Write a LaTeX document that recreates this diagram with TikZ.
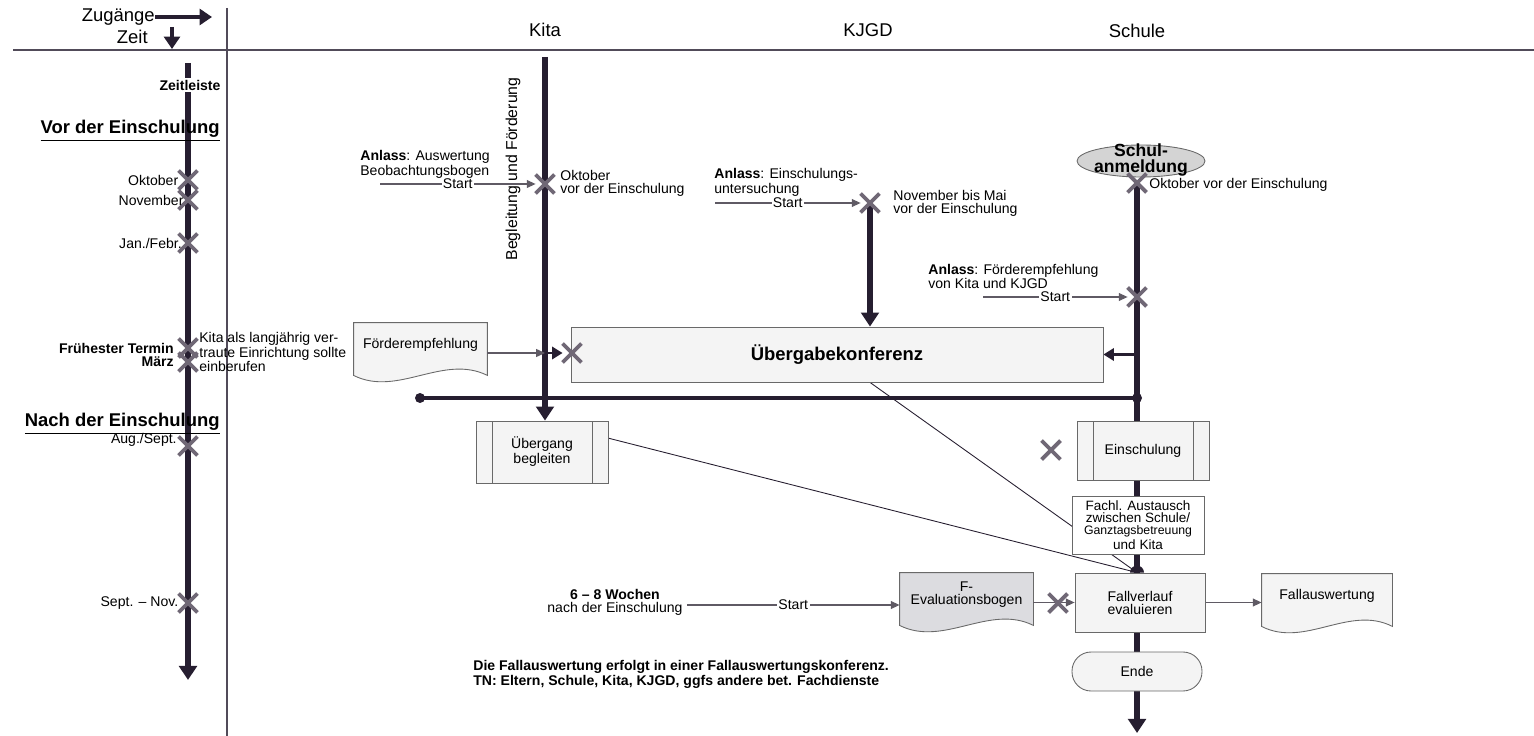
\documentclass[tikz,border=0pt]{standalone}
\usepackage{fontspec}
\setmainfont{Liberation Sans}
\usetikzlibrary{calc,positioning,arrows.meta,shapes.misc,shapes.geometric,backgrounds}
\definecolor{lanedark}{RGB}{38,30,48}
\definecolor{markgray}{RGB}{112,104,118}
\definecolor{thingray}{RGB}{95,90,100}
\definecolor{boxline}{RGB}{105,105,105}
\definecolor{boxfill}{RGB}{244,244,244}
\definecolor{ellfill}{RGB}{212,212,212}
\definecolor{evalfill}{RGB}{220,220,224}

% outline of a document symbol round node #1, filled with #2
\newcommand{\docwave}[2]{%
  \draw[boxline, line width=0.5pt, fill=#2]
    (#1.north west) -- (#1.north east) -- ($(#1.south east)+(0,8)$)
    .. controls ($(#1.south east)!0.33!(#1.south west)+(0,-14)$) and ($(#1.south east)!0.67!(#1.south west)+(0,30)$) .. ($(#1.south west)+(0,8)$) -- cycle;}

\tikzset{
  txt/.style={inner sep=0pt, align=left, font=\fontsize{8}{7.4}\selectfont},
  txtb/.style={txt, font=\fontsize{8}{7.4}\selectfont\bfseries},
  lane/.style={inner sep=0pt, font=\fontsize{10.5}{12}\selectfont},
  phase/.style={inner sep=0pt, font=\fontsize{10.5}{12}\selectfont\bfseries},
  xmark/.style={cross out, draw=markgray, line width=2.2pt, minimum width=0.3cm, minimum height=0.3cm, inner sep=0pt},
  flowline/.style={draw=lanedark, line width=3.2pt},
  flowarrow/.style={flowline, -{Triangle[width=10pt,length=8pt]}},
  midarrow/.style={draw=lanedark, line width=1.4pt, -{Triangle[width=7pt,length=6pt]}},
  headarrow/.style={draw=lanedark, line width=2pt, -{Triangle[width=9pt,length=7pt]}},
  startarrow/.style={draw=thingray, line width=0.6pt, -{Triangle[width=4.5pt,length=5pt]}},
  startlbl/.style={txt, fill=white, inner sep=0.8pt},
  thinline/.style={draw=lanedark, line width=0.5pt},
  frame/.style={draw=lanedark!80, line width=0.6pt},
  box/.style={draw=boxline, line width=0.5pt, fill=boxfill, inner sep=1pt, align=center, font=\fontsize{8}{7.4}\selectfont},
  procbox/.style={box, path picture={
    \draw[boxline, line width=0.5pt]
      ([xshift=0.32cm]path picture bounding box.north west) -- ([xshift=0.32cm]path picture bounding box.south west)
      ([xshift=-0.32cm]path picture bounding box.north east) -- ([xshift=-0.32cm]path picture bounding box.south east);}},
  docbox/.style={box, draw=none, fill=none},
}

\begin{document}
\begin{tikzpicture}[x=0.02cm, y=-0.02cm]
  \useasboundingbox (0,0) rectangle (1534,736);

  % Kopf
  \draw[frame] (13,50) -- (1534,50);
  \draw[frame] (227,8) -- (227,736);
  \node[lane, anchor=east] (zugaenge) at (155,17) {Zugänge};
  \coordinate (zugEnd) at (212,17);
  \node[lane, anchor=east] (zeit) at (148,37) {Zeit};
  \coordinate (zeitTop) at (172,27);
  \coordinate (zeitEnd) at (172,49);
  \node[lane] (kita) at (545,30) {Kita};
  \node[lane] (kjgd) at (868,30) {KJGD};
  \node[lane] (schule) at (1137,31) {Schule};

  % Zeitleiste
  \coordinate (tlTop) at (188,63);
  \coordinate (tlEnd) at (188,680);
  \node[txtb, fill=white, inner sep=1pt] (zeitleiste) at (190,85) {Zeitleiste};
  \node[phase, anchor=east] (vor) at (220,131) {\underline{Vor der Einschulung}};
  \node[phase, anchor=east] (nach) at (220,424) {\underline{Nach der Einschulung}};
  \foreach \n/\y in {okt/180, nov/200, jan/243, mzA/348, mzB/362, aug/446, sep/603}
    \node[xmark] (x\n) at (188,\y) {};
  \node[txt, left=0pt of xokt] {Oktober};
  \node[txt, left=-3pt of xnov] {November};
  \node[txt, left=-2pt of xjan] {Jan./Febr.};
  \node[txtb, align=right, anchor=east] (termin) at (174,355) {Frühester Termin\\März};
  \node[txt, anchor=east] at (177,440) {Aug./Sept.};
  \node[txt, left=0pt of xsep] {Sept. – Nov.};
  \node[txt, anchor=west] (kitaHint) at (199,352) {Kita als langjährig ver-\\traute Einrichtung sollte\\einberufen};

  % Kita
  \coordinate (kitaTop) at (545,57);
  \node[rotate=90, inner sep=0pt, font=\fontsize{9}{10}\selectfont] (begleitung) at (513,169) {Begleitung und Förderung};
  \node[txt, anchor=west] (anlassKita) at (360,164.5) {\textbf{Anlass}: Auswertung\\Beobachtungsbogen};
  \coordinate (kitaStart) at (380,184);
  \node[xmark] (xKita) at (545,184) {};
  \node[txt, anchor=west] at (560,183.5) {Oktober\\vor der Einschulung};

  % KJGD
  \node[txt, anchor=west] (anlassKjgd) at (714,182.5) {\textbf{Anlass}: Einschulungs-\\untersuchung};
  \coordinate (kjgdStart) at (715,203);
  \node[xmark] (xKjgd) at (870,203) {};
  \node[txt, anchor=west] at (893,203.5) {November bis Mai\\vor der Einschulung};

  % Schule
  \node[ellipse, draw=boxline, line width=0.5pt, fill=ellfill, minimum width=2.56cm, minimum height=0.64cm, inner sep=0pt] (anmeldung) at (1141,161) {};
  \node[inner sep=0pt, align=center, font=\fontsize{10}{9.5}\selectfont\bfseries] (anmeldungTxt) at (1141,160) {Schul-\\anmeldung};
  \node[xmark] (xSchule) at (1137,183) {};
  \node[txt, anchor=west] at (1149,185) {Oktober vor der Einschulung};
  \node[txt, anchor=west] (anlassSchule) at (928,276.5) {\textbf{Anlass}: Förderempfehlung\\von Kita und KJGD};
  \coordinate (schuleStart) at (983,297);
  \node[xmark] (xFoerd) at (1137,297) {};
  \coordinate (schuleEnd) at (1137,733);

  % Uebergabe
  \node[docbox, minimum width=2.66cm, minimum height=0.88cm] (foerder) at (420.5,345) {Förderempfehlung};
  \node[box, minimum width=10.64cm, minimum height=1.1cm, font=\fontsize{10.5}{12}\selectfont\bfseries] (uebergabe) at (837,354.5) {Übergabekonferenz};
  \node[xmark] (xUeb) at (572,353) {};
  \coordinate (barL) at (420,398);
  \coordinate (barR) at (1137,398);

  % nach der Einschulung
  \node[procbox, minimum width=2.64cm, minimum height=1.24cm] (uebergang) at (542,452) {Übergang\\begleiten};
  \node[procbox, minimum width=2.64cm, minimum height=1.18cm] (einsch) at (1143,450.5) {Einschulung};
  \node[xmark] (xEinsch) at (1051,450) {};
  \node[box, fill=white, minimum width=2.64cm, minimum height=1.16cm, font=\fontsize{7.7}{6.9}\selectfont] (fachl) at (1138,525) {Fachl. Austausch\\zwischen Schule/\\{\fontsize{7}{6.9}\selectfont Ganztagsbetreuung}\\und Kita};
  \node[box, minimum width=2.6cm, minimum height=1.18cm] (fallv) at (1140,602.5) {Fallverlauf\\evaluieren};
  \node[box, rounded corners=0.38cm, minimum width=2.6cm, minimum height=0.78cm] (ende) at (1137,671.5) {Ende};
  \node[docbox, minimum width=2.66cm, minimum height=0.88cm] (feval) at (966.5,595) {F-\\Evaluationsbogen};
  \node[xmark] (xEval) at (1058,603) {};
  \node[docbox, minimum width=2.6cm, minimum height=0.88cm] (fallaus) at (1327,596) {Fallauswertung};
  \node[txt, align=center] (wochen) at (615,602.5) {\textbf{6 – 8 Wochen}\\nach der Einschulung};
  \coordinate (wochenStart) at (687,605);
  \node[txtb, anchor=west, font=\fontsize{8}{8.5}\selectfont\bfseries] (hinweis) at (473,674.5) {Die Fallauswertung erfolgt in einer Fallauswertungskonferenz.\\TN: Eltern, Schule, Kita, KJGD, ggfs andere bet. Fachdienste};

  % Verbindungen
  \begin{scope}[on background layer]
    \docwave{foerder}{boxfill}
    \docwave{feval}{evalfill}
    \docwave{fallaus}{boxfill}
    \draw[headarrow] (zugaenge.east) -- (zugEnd);
    \draw[headarrow] (zeitTop) -- (zeitEnd);
    \draw[flowarrow] (tlTop) -- (tlEnd);
    \draw[flowarrow] (kitaTop) -- (kitaTop |- uebergang.north);
    \draw[flowarrow] (xKjgd.center) -- (xKjgd |- uebergabe.north);
    \draw[flowarrow] (xSchule.center) -- (schuleEnd);
    \draw[startarrow] (kitaStart) -- node[startlbl] {Start} (xKita);
    \draw[startarrow] (kjgdStart) -- node[startlbl] {Start} (xKjgd);
    \draw[startarrow] (schuleStart) -- node[startlbl] {Start} (xFoerd);
    \draw[startarrow] (wochenStart) -- node[startlbl] {Start} (feval.west |- wochenStart);
    \draw[startarrow] (foerder.east |- xUeb) -- (kitaTop |- xUeb);
    \draw[midarrow] (kitaTop |- xUeb) -- (xUeb);
    \draw[midarrow] (xSchule |- uebergabe.east) -- (uebergabe.east);
    \draw[draw=lanedark, line width=2.2pt] (barL) -- (barR);
    \fill[lanedark] (barL) circle[radius=0.1cm];
    \fill[lanedark] (barR) circle[radius=0.1cm];
    \coordinate (fvdot) at (xSchule |- fallv.north);
    \draw[thinline] ($(uebergang.north east)!0.28!(uebergang.south east)$) -- (fvdot);
    \draw[thinline] (xKjgd |- uebergabe.south) -- (fvdot);
    \draw[startarrow] (feval.east |- fallv.west) -- (fallv.west);
    \draw[startarrow] (fallv.east) -- (fallaus.west |- fallv.east);
  \end{scope}
  \fill[lanedark] ([xshift=-0.14cm]fvdot) arc[start angle=180, end angle=0, radius=0.14cm];
\end{tikzpicture}
\end{document}
